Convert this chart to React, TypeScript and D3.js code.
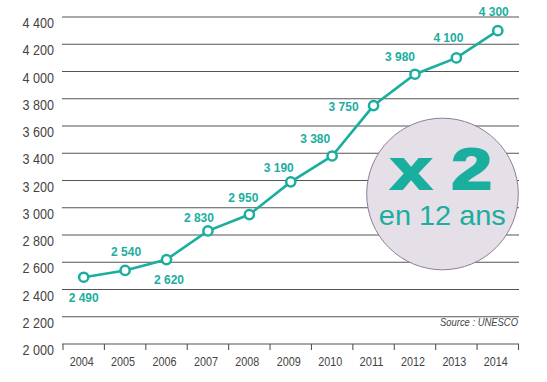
import React from "react";
import * as d3 from "d3";

const years = ["2004","2005","2006","2007","2008","2009","2010","2011","2012","2013","2014"];
const values = [2490, 2540, 2620, 2830, 2950, 3190, 3380, 3750, 3980, 4100, 4300];
const yTicks = [2000, 2200, 2400, 2600, 2800, 3000, 3200, 3400, 3600, 3800, 4000, 4200, 4400];
// label offsets (dx, dy baseline) relative to each point
const labelOffsets: [number, number][] = [
  [0, 24.5], [1, -14], [2.5, 24], [-9, -9], [-6, -13], [-12, -10],
  [-17, -12.5], [-30, 5], [-15, -13.5], [-8, -16], [-4, -15],
];
const badgeMain = "x 2";
const badgeSub = "en 12 ans";
const sourceText = "Source : UNESCO";

const W = 547, H = 382;
const TEAL = "#1aae9f";
const GRID = "#555555";
const TXT = "#444444";
const FONT = "'Liberation Sans', Arial, sans-serif";

const fmt = (v: number) => d3.format(",")(v).replace(/,/g, " ");

export default function App() {
  const x = d3.scaleBand<string>().domain(years).range([63, 518.5]).paddingInner(0).paddingOuter(0);
  const y = d3.scaleLinear().domain([2000, 4400]).range([344, 17]);
  const cx = (i: number) => (x(years[i]) as number) + x.bandwidth() / 2;
  const line = d3.line<number>().x((_, i) => cx(i)).y((d) => y(d));
  const boundaries = [...years.map((yr) => x(yr) as number), x.range()[1]];

  return (
    <svg width={W} height={H} style={{ position: "absolute", left: 0, top: 0, background: "#fff" }}>
      {yTicks.map((t) => (
        <line key={t} x1={62} x2={519} y1={y(t)} y2={y(t)} stroke={GRID} strokeWidth={1.1} />
      ))}
      {boundaries.map((b, i) => (
        <line key={i} x1={b} x2={b} y1={y(2000)} y2={y(2000) + 6} stroke={GRID} strokeWidth={1.1} />
      ))}
      {yTicks.map((t) => (
        <text key={t} x={54} y={y(t) + 11.2} textAnchor="end" fontFamily={FONT}
          fontSize={14} fill={TXT} textLength={31.5} lengthAdjust="spacingAndGlyphs">{fmt(t)}</text>
      ))}
      {years.map((yr, i) => (
        <text key={yr} x={cx(i) - 2} y={365.7} textAnchor="middle" fontFamily={FONT}
          fontSize={13.5} fill={TXT} textLength={24} lengthAdjust="spacingAndGlyphs">{yr}</text>
      ))}
      <text x={518} y={325.7} textAnchor="end" fontFamily={FONT}
        fontStyle="italic" fontSize={11.5} fill={TXT} textLength={78} lengthAdjust="spacingAndGlyphs">{sourceText}</text>
      <circle cx={442.5} cy={194} r={75.8} fill="#e5dfe8" stroke="#8f7d98" strokeWidth={1} />
      <text x={441.5} y={189} textAnchor="middle" fontFamily={FONT} fontWeight={900}
        fontSize={58} fill={TEAL} stroke={TEAL} strokeWidth={2.2} textLength={101} lengthAdjust="spacingAndGlyphs">{badgeMain}</text>
      <text x={442.3} y={225} textAnchor="middle" fontFamily={FONT}
        fontSize={28} fill={TEAL} textLength={127} lengthAdjust="spacingAndGlyphs">{badgeSub}</text>
      <path d={line(values) || ""} fill="none" stroke={TEAL} strokeWidth={2.6} />
      {values.map((v, i) => (
        <circle key={i} cx={cx(i)} cy={y(v)} r={4.6} fill="#fff" stroke={TEAL} strokeWidth={2.5} />
      ))}
      {values.map((v, i) => (
        <text key={i} x={cx(i) + labelOffsets[i][0]} y={y(v) + labelOffsets[i][1]} textAnchor="middle"
          fontFamily={FONT} fontWeight="bold" fontSize={12.5} fill={TEAL} textLength={30} lengthAdjust="spacingAndGlyphs">{fmt(v)}</text>
      ))}
    </svg>
  );
}
